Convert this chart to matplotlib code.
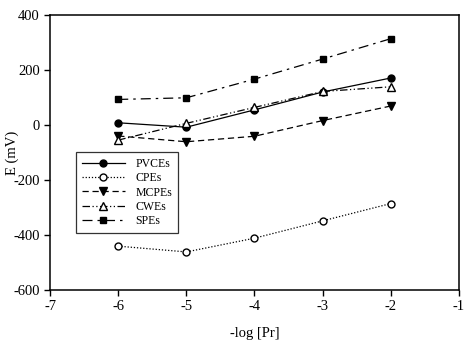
import matplotlib
matplotlib.use('Agg')
import matplotlib.pyplot as plt

plt.rcParams['font.family'] = ['Liberation Serif', 'DejaVu Serif']
plt.rcParams['axes.unicode_minus'] = False

# Datos
log_pr = [-6, -5, -4, -3, -2]
pvces = [8, -8, 55, 120, 171]
cpes = [-441, -462, -412, -349, -286]
mcpes = [-40, -61, -41, 16, 69]
cwes = [-55, 6, 64, 122, 139]
spes = [93, 99, 167, 240, 314]

fig = plt.figure(figsize=(4.73, 3.43), dpi=100)
ax = fig.add_axes([0.106, 0.155, 0.864, 0.801])

ax.plot(log_pr, pvces, color='black', lw=0.9, ls='-', marker='o', ms=5, label='PVCEs')
ax.plot(log_pr, cpes, color='black', lw=0.9, ls=(0, (1, 1.5)), marker='o', ms=5,
        mfc='white', label='CPEs')
ax.plot(log_pr, mcpes, color='black', lw=0.9, ls=(0, (5, 3)), marker='v', ms=5.5, label='MCPEs')
ax.plot(log_pr, cwes, color='black', lw=0.9, ls=(0, (6, 2, 1, 2, 1, 2)), marker='^', ms=5.5,
        mfc='white', label='CWEs')
ax.plot(log_pr, spes, color='black', lw=0.9, ls=(0, (8, 4, 2, 4)), marker='s', ms=5, label='SPEs')

ax.set_xlim(-7, -1)
ax.set_ylim(-600, 400)
ax.set_xticks([-7, -6, -5, -4, -3, -2, -1])
ax.set_yticks([-600, -400, -200, 0, 200, 400])
ax.tick_params(direction='out', length=4, width=1, labelsize=10.5, top=False, right=False)
for s in ax.spines.values():
    s.set_linewidth(1.1)

ax.set_xlabel('-log [Pr]', fontsize=10.5)
ax.xaxis.set_label_coords(0.5, -0.135)
ax.set_ylabel('E (mV)', fontsize=10.5)
ax.yaxis.set_label_coords(-0.075, 0.5)

leg = ax.legend(loc='upper left', bbox_to_anchor=(0.064, 0.502), fontsize=8.5, frameon=True,
                fancybox=False, edgecolor='black', handlelength=3.6, borderpad=0.5,
                labelspacing=0.2, handletextpad=0.9, borderaxespad=0)
leg.get_frame().set_linewidth(0.9)

fig.savefig('out.png', dpi=100)
